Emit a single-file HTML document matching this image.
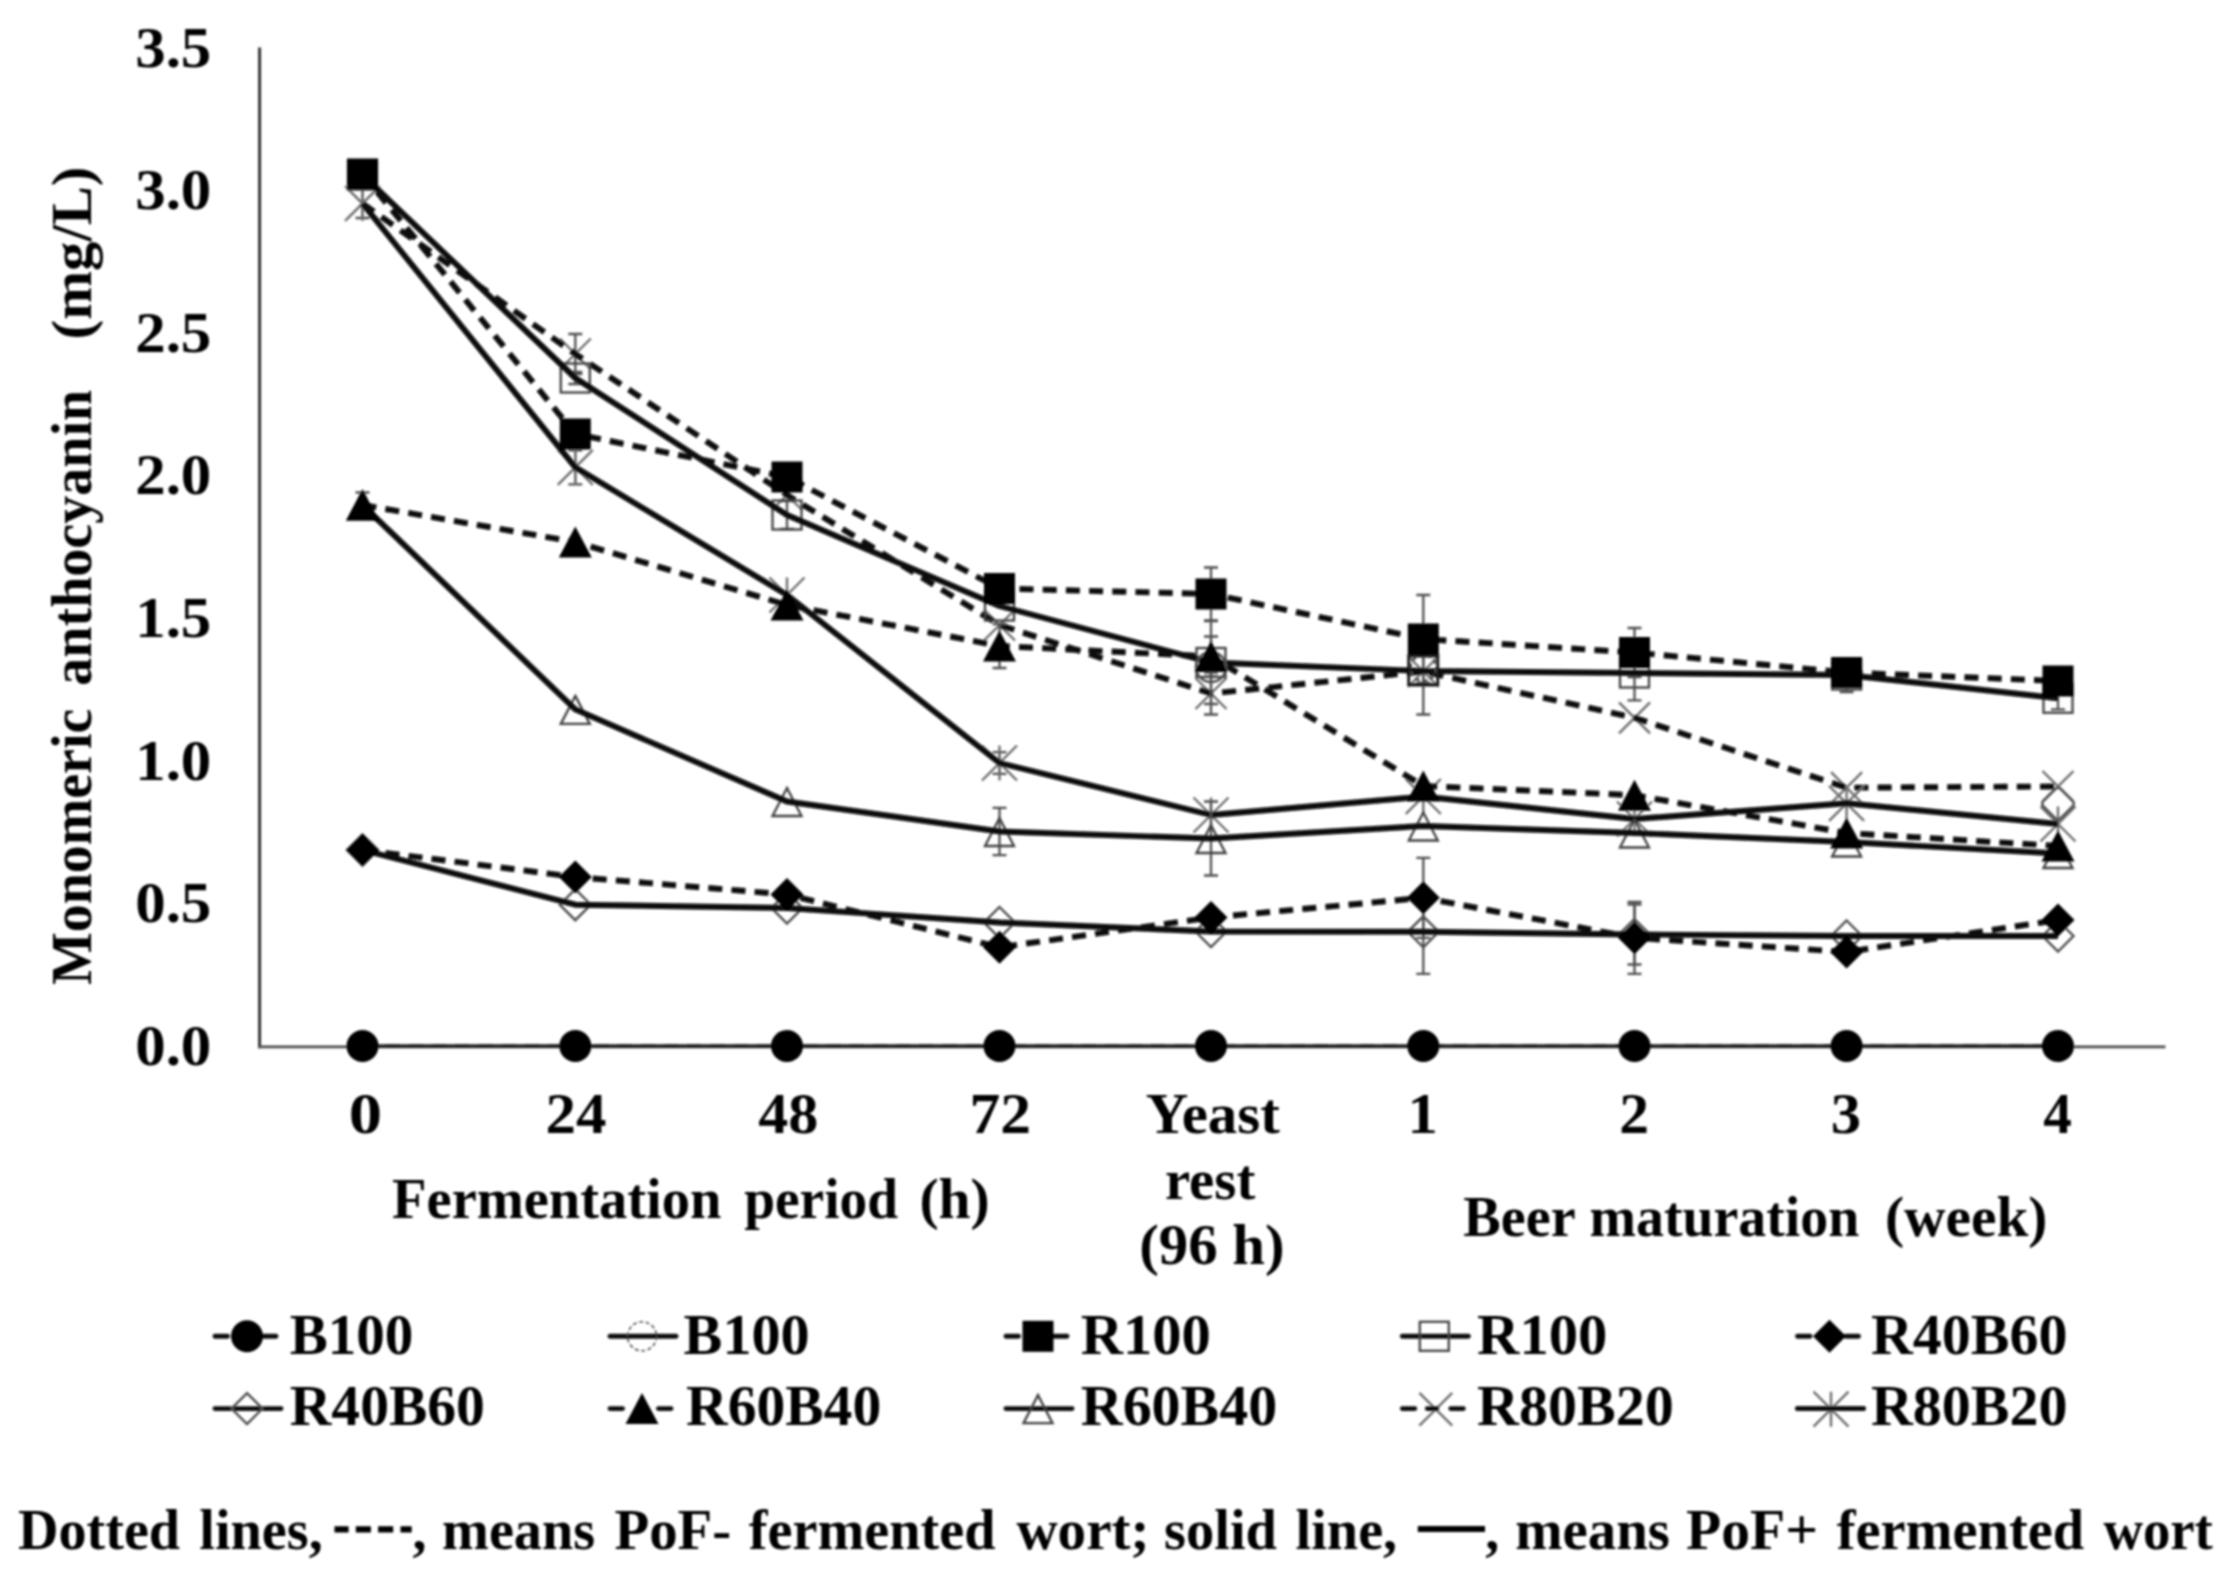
<!DOCTYPE html>
<html lang="en"><head><meta charset="utf-8"><title>Monomeric anthocyanin during fermentation and maturation</title>
<style>
html,body{margin:0;padding:0;background:#fff;}
body{width:2235px;height:1580px;overflow:hidden;}
svg{display:block;}
text{font-family:"Liberation Serif","DejaVu Serif",serif;font-weight:bold;font-size:56px;fill:#000;}
</style></head><body>
<svg width="2235" height="1580" viewBox="0 0 2235 1580">
<rect width="2235" height="1580" fill="#fff"/>
<defs><filter id="soft" x="0" y="0" width="2235" height="1580" filterUnits="userSpaceOnUse"><feGaussianBlur stdDeviation="0.95"/></filter></defs>
<g filter="url(#soft)">
<g id="axes" fill="none">
<path d="M259.6 47.5V1048.3" stroke="#333" stroke-width="3"/>
<path d="M258.1 1046.9H2165.5" stroke="#4c4c4c" stroke-width="2.9"/>
</g>
<g id="yticks">
<text x="135.2" y="1064.6" textLength="76.1" lengthAdjust="spacingAndGlyphs">0.0</text>
<text x="135.2" y="922.1" textLength="76.1" lengthAdjust="spacingAndGlyphs">0.5</text>
<text x="135.2" y="779.5" textLength="76.1" lengthAdjust="spacingAndGlyphs">1.0</text>
<text x="135.2" y="636.9" textLength="76.1" lengthAdjust="spacingAndGlyphs">1.5</text>
<text x="135.2" y="494.4" textLength="76.1" lengthAdjust="spacingAndGlyphs">2.0</text>
<text x="135.2" y="351.9" textLength="76.1" lengthAdjust="spacingAndGlyphs">2.5</text>
<text x="135.2" y="209.3" textLength="76.1" lengthAdjust="spacingAndGlyphs">3.0</text>
<text x="135.2" y="66.7" textLength="76.1" lengthAdjust="spacingAndGlyphs">3.5</text>
</g>
<g id="ytitle" transform="translate(91.2 0) rotate(-90)">
<text x="-985.1" y="0" textLength="276.4" lengthAdjust="spacingAndGlyphs">Monomeric</text>
<text x="-685.7" y="0" textLength="295.8" lengthAdjust="spacingAndGlyphs">anthocyanin</text>
<text x="-339.4" y="0" textLength="172.8" lengthAdjust="spacingAndGlyphs">(mg/L)</text>
</g>
<g>
<path d="M362.5 189V218M355.5 189H369.5M355.5 218H369.5" fill="none" stroke="#505050" stroke-width="2.3"/>
<path d="M575.3 334V374M568.3 334H582.3M568.3 374H582.3" fill="none" stroke="#505050" stroke-width="2.3"/>
<path d="M1211 672.5V714.5M1204 672.5H1218M1204 714.5H1218" fill="none" stroke="#505050" stroke-width="2.3"/>
<path d="M347 188L378 219M347 219L378 188" fill="none" stroke="#6e6e6e" stroke-width="2.4"/>
<path d="M559.8 338.5L590.8 369.5M559.8 369.5L590.8 338.5" fill="none" stroke="#6e6e6e" stroke-width="2.4"/>
<path d="M771.5 479.5L802.5 510.5M771.5 510.5L802.5 479.5" fill="none" stroke="#6e6e6e" stroke-width="2.4"/>
<path d="M984 609.5L1015 640.5M984 640.5L1015 609.5" fill="none" stroke="#6e6e6e" stroke-width="2.4"/>
<path d="M1195.5 678L1226.5 709M1195.5 709L1226.5 678" fill="none" stroke="#6e6e6e" stroke-width="2.4"/>
<path d="M1407.8 656L1438.8 687M1407.8 687L1438.8 656" fill="none" stroke="#6e6e6e" stroke-width="2.4"/>
<path d="M1619 702.3L1650 733.3M1619 733.3L1650 702.3" fill="none" stroke="#6e6e6e" stroke-width="2.4"/>
<path d="M1831.1 772.2L1862.1 803.2M1831.1 803.2L1862.1 772.2" fill="none" stroke="#6e6e6e" stroke-width="2.4"/>
<path d="M2042.5 771L2073.5 802M2042.5 802L2073.5 771" fill="none" stroke="#6e6e6e" stroke-width="2.4"/>
<polyline points="362.5,203.5 575.3,354 787,495 999.5,625 1211,693.5 1423.3,671.5 1634.5,717.8 1846.6,787.7 2058,786.5" fill="none" stroke="#0a0a0a" stroke-width="5.9" stroke-linejoin="round" stroke-dasharray="14 9.2"/>
</g>
<g>
<path d="M575.3 450.3V484.3M568.3 450.3H582.3M568.3 484.3H582.3" fill="none" stroke="#505050" stroke-width="2.3"/>
<path d="M999.5 752.2V773.8M992.5 752.2H1006.5M992.5 773.8H1006.5" fill="none" stroke="#505050" stroke-width="2.3"/>
<path d="M345 186L380 221M345 221L380 186M362.5 186L362.5 221" fill="none" stroke="#6e6e6e" stroke-width="2.4"/>
<path d="M557.8 449.8L592.8 484.8M557.8 484.8L592.8 449.8M575.3 449.8L575.3 484.8" fill="none" stroke="#6e6e6e" stroke-width="2.4"/>
<path d="M769.5 577.5L804.5 612.5M769.5 612.5L804.5 577.5M787 577.5L787 612.5" fill="none" stroke="#6e6e6e" stroke-width="2.4"/>
<path d="M982 745.5L1017 780.5M982 780.5L1017 745.5M999.5 745.5L999.5 780.5" fill="none" stroke="#6e6e6e" stroke-width="2.4"/>
<path d="M1193.5 797.5L1228.5 832.5M1193.5 832.5L1228.5 797.5M1211 797.5L1211 832.5" fill="none" stroke="#6e6e6e" stroke-width="2.4"/>
<path d="M1405.8 779L1440.8 814M1405.8 814L1440.8 779M1423.3 779L1423.3 814" fill="none" stroke="#6e6e6e" stroke-width="2.4"/>
<path d="M1617 801.5L1652 836.5M1617 836.5L1652 801.5M1634.5 801.5L1634.5 836.5" fill="none" stroke="#6e6e6e" stroke-width="2.4"/>
<path d="M1829.1 785.8L1864.1 820.8M1829.1 820.8L1864.1 785.8M1846.6 785.8L1846.6 820.8" fill="none" stroke="#6e6e6e" stroke-width="2.4"/>
<path d="M2040.5 806.5L2075.5 841.5M2040.5 841.5L2075.5 806.5M2058 806.5L2058 841.5" fill="none" stroke="#6e6e6e" stroke-width="2.4"/>
<polyline points="362.5,203.5 575.3,467.3 787,595 999.5,763 1211,815 1423.3,796.5 1634.5,819 1846.6,803.3 2058,824" fill="none" stroke="#0a0a0a" stroke-width="5.9" stroke-linejoin="round"/>
</g>
<g>
<polyline points="362.5,1046 575.3,1046 787,1046 999.5,1046 1211,1046 1423.3,1046 1634.5,1046 1846.6,1046 2058,1046" fill="none" stroke="#222" stroke-width="3.3" stroke-linejoin="round" stroke-dasharray="14 9.2"/>
</g>
<g>
<polyline points="362.5,1046 575.3,1046 787,1046 999.5,1046 1211,1046 1423.3,1046 1634.5,1046 1846.6,1046 2058,1046" fill="none" stroke="#222" stroke-width="3.3" stroke-linejoin="round"/>
</g>
<g>
<path d="M1211 567.5V620.5M1204 567.5H1218M1204 620.5H1218" fill="none" stroke="#505050" stroke-width="2.3"/>
<path d="M1423.3 595V683M1416.3 595H1430.3M1416.3 683H1430.3" fill="none" stroke="#505050" stroke-width="2.3"/>
<path d="M1634.5 628V677M1627.5 628H1641.5M1627.5 677H1641.5" fill="none" stroke="#505050" stroke-width="2.3"/>
<polyline points="362.5,174 575.3,434 787,477 999.5,588.5 1211,594 1423.3,639 1634.5,652.5 1846.6,672.5 2058,681" fill="none" stroke="#0a0a0a" stroke-width="5.9" stroke-linejoin="round" stroke-dasharray="14 9.2"/>
</g>
<g>
<path d="M575.3 372V384M568.3 372H582.3M568.3 384H582.3" fill="none" stroke="#505050" stroke-width="2.3"/>
<path d="M787 501V529M780 501H794M780 529H794" fill="none" stroke="#505050" stroke-width="2.3"/>
<path d="M1211 621V704M1204 621H1218M1204 704H1218" fill="none" stroke="#505050" stroke-width="2.3"/>
<path d="M1423.3 627.5V714.5M1416.3 627.5H1430.3M1416.3 714.5H1430.3" fill="none" stroke="#505050" stroke-width="2.3"/>
<path d="M1634.5 645.7V700.3M1627.5 645.7H1641.5M1627.5 700.3H1641.5" fill="none" stroke="#505050" stroke-width="2.3"/>
<path d="M2058 687.3V709.3M2051 687.3H2065M2051 709.3H2065" fill="none" stroke="#505050" stroke-width="2.3"/>
<rect x="348" y="160.5" width="29" height="29" fill="none" stroke="#404040" stroke-width="2.3"/>
<rect x="560.8" y="363.5" width="29" height="29" fill="none" stroke="#404040" stroke-width="2.3"/>
<rect x="772.5" y="500.5" width="29" height="29" fill="none" stroke="#404040" stroke-width="2.3"/>
<rect x="985" y="591.5" width="29" height="29" fill="none" stroke="#404040" stroke-width="2.3"/>
<rect x="1196.5" y="648" width="29" height="29" fill="none" stroke="#404040" stroke-width="2.3"/>
<rect x="1408.8" y="656.5" width="29" height="29" fill="none" stroke="#404040" stroke-width="2.3"/>
<rect x="1620" y="658.5" width="29" height="29" fill="none" stroke="#404040" stroke-width="2.3"/>
<rect x="1832.1" y="660.5" width="29" height="29" fill="none" stroke="#404040" stroke-width="2.3"/>
<rect x="2043.5" y="683.8" width="29" height="29" fill="none" stroke="#404040" stroke-width="2.3"/>
<polyline points="362.5,175 575.3,378 787,515 999.5,606 1211,662.5 1423.3,671 1634.5,673 1846.6,675 2058,698.3" fill="none" stroke="#0a0a0a" stroke-width="5.9" stroke-linejoin="round"/>
</g>
<g>
<path d="M1423.3 857.8V937.8M1416.3 857.8H1430.3M1416.3 937.8H1430.3" fill="none" stroke="#505050" stroke-width="2.3"/>
<path d="M1634.5 901.8V973.8M1627.5 901.8H1641.5M1627.5 973.8H1641.5" fill="none" stroke="#505050" stroke-width="2.3"/>
<polyline points="362.5,850 575.3,877 787,894.5 999.5,947.3 1211,917.5 1423.3,897.8 1634.5,937.8 1846.6,952 2058,920" fill="none" stroke="#0a0a0a" stroke-width="5.9" stroke-linejoin="round" stroke-dasharray="14 9.2"/>
</g>
<g>
<path d="M1423.3 889.8V973.8M1416.3 889.8H1430.3M1416.3 973.8H1430.3" fill="none" stroke="#505050" stroke-width="2.3"/>
<path d="M1634.5 904.5V964.5M1627.5 904.5H1641.5M1627.5 964.5H1641.5" fill="none" stroke="#505050" stroke-width="2.3"/>
<path d="M362.5 834.5L378 850L362.5 865.5L347 850Z" fill="none" stroke="#505050" stroke-width="2.4"/>
<path d="M575.3 889.2L590.8 904.7L575.3 920.2L559.8 904.7Z" fill="none" stroke="#505050" stroke-width="2.4"/>
<path d="M787 892.5L802.5 908L787 923.5L771.5 908Z" fill="none" stroke="#505050" stroke-width="2.4"/>
<path d="M999.5 907L1015 922.5L999.5 938L984 922.5Z" fill="none" stroke="#505050" stroke-width="2.4"/>
<path d="M1211 916L1226.5 931.5L1211 947L1195.5 931.5Z" fill="none" stroke="#505050" stroke-width="2.4"/>
<path d="M1423.3 916.3L1438.8 931.8L1423.3 947.3L1407.8 931.8Z" fill="none" stroke="#505050" stroke-width="2.4"/>
<path d="M1634.5 919L1650 934.5L1634.5 950L1619 934.5Z" fill="none" stroke="#505050" stroke-width="2.4"/>
<path d="M1846.6 920.5L1862.1 936L1846.6 951.5L1831.1 936Z" fill="none" stroke="#505050" stroke-width="2.4"/>
<path d="M2058 920.5L2073.5 936L2058 951.5L2042.5 936Z" fill="none" stroke="#505050" stroke-width="2.4"/>
<polyline points="362.5,850 575.3,904.7 787,908 999.5,922.5 1211,931.5 1423.3,931.8 1634.5,934.5 1846.6,936 2058,936" fill="none" stroke="#0a0a0a" stroke-width="5.9" stroke-linejoin="round"/>
</g>
<g>
<path d="M362.5 492.5V517.5M355.5 492.5H369.5M355.5 517.5H369.5" fill="none" stroke="#505050" stroke-width="2.3"/>
<path d="M999.5 624V668M992.5 624H1006.5M992.5 668H1006.5" fill="none" stroke="#505050" stroke-width="2.3"/>
<path d="M1211 636.5V676.5M1204 636.5H1218M1204 676.5H1218" fill="none" stroke="#505050" stroke-width="2.3"/>
<polyline points="362.5,505 575.3,542 787,605 999.5,646 1211,656.5 1423.3,786 1634.5,795.2 1846.6,833 2058,846" fill="none" stroke="#0a0a0a" stroke-width="5.9" stroke-linejoin="round" stroke-dasharray="14 9.2"/>
</g>
<g>
<path d="M999.5 807.9V855.1M992.5 807.9H1006.5M992.5 855.1H1006.5" fill="none" stroke="#505050" stroke-width="2.3"/>
<path d="M1211 801.5V875.5M1204 801.5H1218M1204 875.5H1218" fill="none" stroke="#505050" stroke-width="2.3"/>
<path d="M362.5 491.5L377 519.5L348 519.5Z" fill="none" stroke="#404040" stroke-width="2.3"/>
<path d="M575.3 695.9L589.8 723.9L560.8 723.9Z" fill="none" stroke="#404040" stroke-width="2.3"/>
<path d="M787 788L801.5 816L772.5 816Z" fill="none" stroke="#404040" stroke-width="2.3"/>
<path d="M999.5 818L1014 846L985 846Z" fill="none" stroke="#404040" stroke-width="2.3"/>
<path d="M1211 825L1225.5 853L1196.5 853Z" fill="none" stroke="#404040" stroke-width="2.3"/>
<path d="M1423.3 812.5L1437.8 840.5L1408.8 840.5Z" fill="none" stroke="#404040" stroke-width="2.3"/>
<path d="M1634.5 819.5L1649 847.5L1620 847.5Z" fill="none" stroke="#404040" stroke-width="2.3"/>
<path d="M1846.6 828.5L1861.1 856.5L1832.1 856.5Z" fill="none" stroke="#404040" stroke-width="2.3"/>
<path d="M2058 840L2072.5 868L2043.5 868Z" fill="none" stroke="#404040" stroke-width="2.3"/>
<polyline points="362.5,505 575.3,709.4 787,801.5 999.5,831.5 1211,838.5 1423.3,826 1634.5,833 1846.6,842 2058,853.5" fill="none" stroke="#0a0a0a" stroke-width="5.9" stroke-linejoin="round"/>
</g>
<g fill="none" stroke="#505050" stroke-width="2.6">
<circle cx="1211" cy="667" r="15"/>
<path d="M1846.6 688V692M1839.6 692H1853.6"/>
<circle cx="1423.3" cy="668" r="13" stroke-dasharray="5 3"/>
<rect x="1408.8" y="655.5" width="29" height="29" stroke="#151515" stroke-width="2.8"/>
<rect x="-12.3" y="-12.3" width="24.6" height="24.6" rx="4" transform="translate(2058 803.5) rotate(45)"/>
</g>
<g id="filled-markers">
<circle cx="362.5" cy="1046" r="16" fill="#000"/>
<circle cx="575.3" cy="1046" r="16" fill="#000"/>
<circle cx="787" cy="1046" r="16" fill="#000"/>
<circle cx="999.5" cy="1046" r="16" fill="#000"/>
<circle cx="1211" cy="1046" r="16" fill="#000"/>
<circle cx="1423.3" cy="1046" r="16" fill="#000"/>
<circle cx="1634.5" cy="1046" r="16" fill="#000"/>
<circle cx="1846.6" cy="1046" r="16" fill="#000"/>
<circle cx="2058" cy="1046" r="16" fill="#000"/>
<rect x="347" y="158.5" width="31" height="31" fill="#000"/>
<rect x="559.8" y="418.5" width="31" height="31" fill="#000"/>
<rect x="771.5" y="461.5" width="31" height="31" fill="#000"/>
<rect x="984" y="573" width="31" height="31" fill="#000"/>
<rect x="1195.5" y="578.5" width="31" height="31" fill="#000"/>
<rect x="1407.8" y="623.5" width="31" height="31" fill="#000"/>
<rect x="1619" y="637" width="31" height="31" fill="#000"/>
<rect x="1831.1" y="657" width="31" height="31" fill="#000"/>
<rect x="2042.5" y="665.5" width="31" height="31" fill="#000"/>
<path d="M362.5 833.5L379 850L362.5 866.5L346 850Z" fill="#000"/>
<path d="M575.3 860.5L591.8 877L575.3 893.5L558.8 877Z" fill="#000"/>
<path d="M787 878L803.5 894.5L787 911L770.5 894.5Z" fill="#000"/>
<path d="M999.5 930.8L1016 947.3L999.5 963.8L983 947.3Z" fill="#000"/>
<path d="M1211 901L1227.5 917.5L1211 934L1194.5 917.5Z" fill="#000"/>
<path d="M1423.3 881.3L1439.8 897.8L1423.3 914.3L1406.8 897.8Z" fill="#000"/>
<path d="M1634.5 921.3L1651 937.8L1634.5 954.3L1618 937.8Z" fill="#000"/>
<path d="M1846.6 935.5L1863.1 952L1846.6 968.5L1830.1 952Z" fill="#000"/>
<path d="M2058 903.5L2074.5 920L2058 936.5L2041.5 920Z" fill="#000"/>
<path d="M362.5 489.5L379 520.5L346 520.5Z" fill="#000"/>
<path d="M575.3 526.5L591.8 557.5L558.8 557.5Z" fill="#000"/>
<path d="M787 589.5L803.5 620.5L770.5 620.5Z" fill="#000"/>
<path d="M999.5 630.5L1016 661.5L983 661.5Z" fill="#000"/>
<path d="M1211 641L1227.5 672L1194.5 672Z" fill="#000"/>
<path d="M1423.3 770.5L1439.8 801.5L1406.8 801.5Z" fill="#000"/>
<path d="M1634.5 779.7L1651 810.7L1618 810.7Z" fill="#000"/>
<path d="M1846.6 817.5L1863.1 848.5L1830.1 848.5Z" fill="#000"/>
<path d="M2058 830.5L2074.5 861.5L2041.5 861.5Z" fill="#000"/>
</g>
<g id="xticks">
<text x="348.7" y="1133.2" textLength="33.3" lengthAdjust="spacingAndGlyphs">0</text>
<text x="545.5" y="1133.2" textLength="60.9" lengthAdjust="spacingAndGlyphs">24</text>
<text x="758.3" y="1133.2" textLength="60.1" lengthAdjust="spacingAndGlyphs">48</text>
<text x="969.4" y="1133.2" textLength="61.6" lengthAdjust="spacingAndGlyphs">72</text>
<text x="1145.7" y="1133.2" textLength="134.1" lengthAdjust="spacingAndGlyphs">Yeast</text>
<text x="1407.4" y="1133.2" textLength="30.4" lengthAdjust="spacingAndGlyphs">1</text>
<text x="1619.3" y="1133.2" textLength="29.8" lengthAdjust="spacingAndGlyphs">2</text>
<text x="1830.7" y="1133.2" textLength="30.3" lengthAdjust="spacingAndGlyphs">3</text>
<text x="2043.2" y="1133.2" textLength="28.6" lengthAdjust="spacingAndGlyphs">4</text>
<text x="1164.9" y="1199.3" textLength="90.4" lengthAdjust="spacingAndGlyphs">rest</text>
<text x="1139.2" y="1264.3" textLength="145.5" lengthAdjust="spacingAndGlyphs">(96 h)</text>
</g>
<g id="xtitles">
<text x="392.1" y="1218.2" textLength="329.3" lengthAdjust="spacingAndGlyphs">Fermentation</text>
<text x="744.2" y="1218.2" textLength="153.9" lengthAdjust="spacingAndGlyphs">period</text>
<text x="919.4" y="1218.2" textLength="70.3" lengthAdjust="spacingAndGlyphs">(h)</text>
<text x="1463.3" y="1236.2" textLength="112.3" lengthAdjust="spacingAndGlyphs">Beer</text>
<text x="1589.5" y="1236.2" textLength="269.8" lengthAdjust="spacingAndGlyphs">maturation</text>
<text x="1884.9" y="1236.2" textLength="162.6" lengthAdjust="spacingAndGlyphs">(week)</text>
</g>
<g id="legend">
<path d="M215 1336.3H227.5M263.5 1336.3H276" stroke="#0a0a0a" stroke-width="4.9" stroke-linecap="round" fill="none"/>
<circle cx="247" cy="1336.3" r="16" fill="#000"/>
<text x="289.8" y="1354" textLength="123.6" lengthAdjust="spacingAndGlyphs">B100</text>
<path d="M610 1336.3H676" stroke="#0a0a0a" stroke-width="4.9" stroke-linecap="round" fill="none"/>
<circle cx="642" cy="1336.3" r="14.5" fill="none" stroke="#505050" stroke-width="1.6" stroke-dasharray="4 2.5"/>
<text x="683.6" y="1354" textLength="126.1" lengthAdjust="spacingAndGlyphs">B100</text>
<path d="M1006 1336.3H1018.5M1054.5 1336.3H1067" stroke="#0a0a0a" stroke-width="4.9" stroke-linecap="round" fill="none"/>
<rect x="1022.5" y="1320.8" width="31" height="31" fill="#000"/>
<text x="1080.8" y="1354" textLength="130.1" lengthAdjust="spacingAndGlyphs">R100</text>
<path d="M1402.3 1336.3H1468.3" stroke="#0a0a0a" stroke-width="4.9" stroke-linecap="round" fill="none"/>
<rect x="1419.8" y="1321.8" width="29" height="29" fill="none" stroke="#404040" stroke-width="2.3"/>
<text x="1477.1" y="1354" textLength="130.2" lengthAdjust="spacingAndGlyphs">R100</text>
<path d="M1797.5 1336.3H1810M1846 1336.3H1858.5" stroke="#0a0a0a" stroke-width="4.9" stroke-linecap="round" fill="none"/>
<path d="M1829.5 1319.8L1846 1336.3L1829.5 1352.8L1813 1336.3Z" fill="#000"/>
<text x="1870.9" y="1354" textLength="196.5" lengthAdjust="spacingAndGlyphs">R40B60</text>
<path d="M215 1408.6H281" stroke="#0a0a0a" stroke-width="4.9" stroke-linecap="round" fill="none"/>
<path d="M247 1393.1L262.5 1408.6L247 1424.1L231.5 1408.6Z" fill="none" stroke="#505050" stroke-width="2.4"/>
<text x="289.8" y="1425.3" textLength="195.1" lengthAdjust="spacingAndGlyphs">R40B60</text>
<path d="M610 1408.6H622.5M658.5 1408.6H671" stroke="#0a0a0a" stroke-width="4.9" stroke-linecap="round" fill="none"/>
<path d="M642 1393.1L658.5 1424.1L625.5 1424.1Z" fill="#000"/>
<text x="686.1" y="1425.3" textLength="195.1" lengthAdjust="spacingAndGlyphs">R60B40</text>
<path d="M1006 1408.6H1072" stroke="#0a0a0a" stroke-width="4.9" stroke-linecap="round" fill="none"/>
<path d="M1038 1395.1L1052.5 1423.1L1023.5 1423.1Z" fill="none" stroke="#404040" stroke-width="2.3"/>
<text x="1080.8" y="1425.3" textLength="196.4" lengthAdjust="spacingAndGlyphs">R60B40</text>
<path d="M1402.3 1408.6H1414.8M1450.8 1408.6H1463.3" stroke="#0a0a0a" stroke-width="4.9" stroke-linecap="round" fill="none"/>
<path d="M1419.4 1392.8L1452.2 1425.6M1419.4 1425.6L1452.2 1392.8" fill="none" stroke="#6e6e6e" stroke-width="2.4"/>
<path d="M1427.3 1408.6H1436.8" stroke="#0a0a0a" stroke-width="4.9" stroke-linecap="round" fill="none"/>
<text x="1477.1" y="1425.3" textLength="196.6" lengthAdjust="spacingAndGlyphs">R80B20</text>
<path d="M1797.5 1408.6H1863.5" stroke="#0a0a0a" stroke-width="4.9" stroke-linecap="round" fill="none"/>
<path d="M1813.5 1391.7L1848.5 1426.7M1813.5 1426.7L1848.5 1391.7M1831 1391.7L1831 1426.7" fill="none" stroke="#6e6e6e" stroke-width="2.4"/>
<path d="M1797.5 1408.6H1863.5" stroke="#0a0a0a" stroke-width="4.9" stroke-linecap="round" fill="none"/>
<text x="1870.9" y="1425.3" textLength="196.5" lengthAdjust="spacingAndGlyphs">R80B20</text>
</g>
<g id="caption">
<text x="18.0" y="1549.2" textLength="162.0" lengthAdjust="spacingAndGlyphs">Dotted</text>
<text x="199.3" y="1549.2" textLength="123.5" lengthAdjust="spacingAndGlyphs">lines,</text>
<path d="M334.5 1529.3H348.6M355.8 1529.3H370.9M378.1 1529.3H393.2M400.5 1529.3H411.7" stroke="#000" stroke-width="6.2" fill="none"/>
<text x="412.5" y="1549.2">,</text>
<text x="442.0" y="1549.2" textLength="153.2" lengthAdjust="spacingAndGlyphs">means</text>
<text x="614.5" y="1549.2" textLength="116.7" lengthAdjust="spacingAndGlyphs">PoF-</text>
<text x="748.8" y="1549.2" textLength="246.6" lengthAdjust="spacingAndGlyphs">fermented</text>
<text x="1016.4" y="1549.2" textLength="133.1" lengthAdjust="spacingAndGlyphs">wort;</text>
<text x="1164.1" y="1549.2" textLength="112.9" lengthAdjust="spacingAndGlyphs">solid</text>
<text x="1295.6" y="1549.2" textLength="101.6" lengthAdjust="spacingAndGlyphs">line,</text>
<path d="M1417.8 1529H1485" stroke="#000" stroke-width="6.2" fill="none"/>
<text x="1485.2" y="1549.2">,</text>
<text x="1515.2" y="1549.2" textLength="154.8" lengthAdjust="spacingAndGlyphs">means</text>
<text x="1686.0" y="1549.2" textLength="132.0" lengthAdjust="spacingAndGlyphs">PoF+</text>
<text x="1836.8" y="1549.2" textLength="247.3" lengthAdjust="spacingAndGlyphs">fermented</text>
<text x="2103.4" y="1549.2" textLength="109.4" lengthAdjust="spacingAndGlyphs">wort</text>
</g>
</g>
</svg>
</body></html>
